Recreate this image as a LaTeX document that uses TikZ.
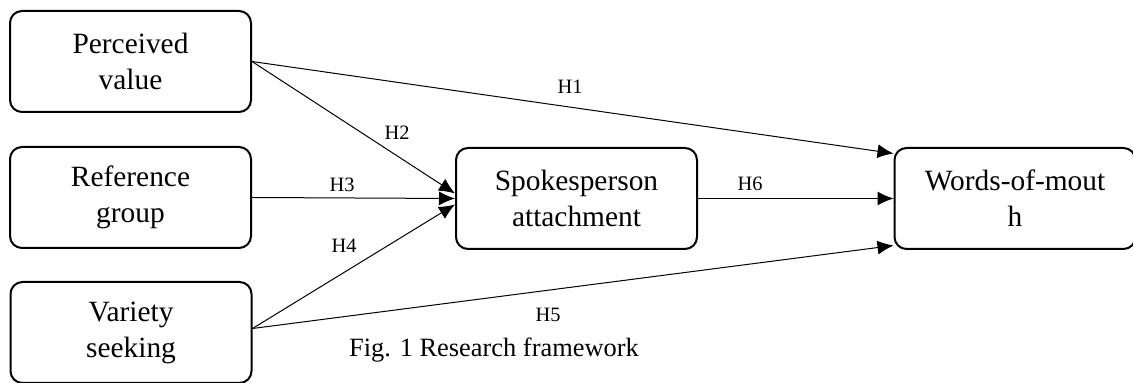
\documentclass[tikz,border=0pt]{standalone}
\usepackage{fontspec}
\setmainfont{Liberation Serif}
\usetikzlibrary{arrows.meta}
\tikzset{>={Latex[length=8pt,width=7pt]}}
\tikzset{
  factor/.style={draw,line width=1pt,rounded corners=6pt,minimum width=120.5pt,minimum height=50.5pt,
    inner sep=0pt,align=center,font=\fontsize{14.7}{18}\selectfont},
  hyp/.style={font=\fontsize{10.2}{12}\selectfont},
  link/.style={->,line width=0.5pt},
}
\begin{document}
\begin{tikzpicture}[line cap=round,line join=round,x=0.5pt,y=-0.5pt]
  \useasboundingbox (0,0) rectangle (1133,383);
  % factors
  \node[factor] (pv) at (130.5,61.5) {Perceived\\value};
  \node[factor] (rg) at (130.5,197.5) {Reference\\group};
  \node[factor] (vs) at (131,332.5) {Variety\\seeking};
  \node[factor] (sa) at (576.5,198.5) {Spokesperson\\attachment};
  \node[factor] (wom) at (1015,198.5) {Words-of-mout\\h};
  % hypotheses
  \draw[link] (pv.east) -- ([yshift=22.5pt]wom.west);
  \draw[link] (pv.east) -- ([yshift=2.5pt]sa.west);
  \draw[link] (rg.east) -- (sa.west);
  \draw[link] ([yshift=2pt]vs.east) -- ([yshift=-3pt]sa.west);
  \draw[link] ([yshift=2pt]vs.east) -- ([yshift=-23.5pt]wom.west);
  \draw[link] (sa.east) -- (wom.west);
  \node[hyp] (h1) at (570,87) {H1};
  \node[hyp] (h2) at (397,133) {H2};
  \node[hyp] (h3) at (342,185) {H3};
  \node[hyp] (h4) at (344,246) {H4};
  \node[hyp] (h5) at (548,315) {H5};
  \node[hyp] (h6) at (750,184) {H6};
  \node[font=\fontsize{13.2}{16}\selectfont] (cap) at (494,350) {Fig. 1 Research framework};
\end{tikzpicture}
\end{document}
